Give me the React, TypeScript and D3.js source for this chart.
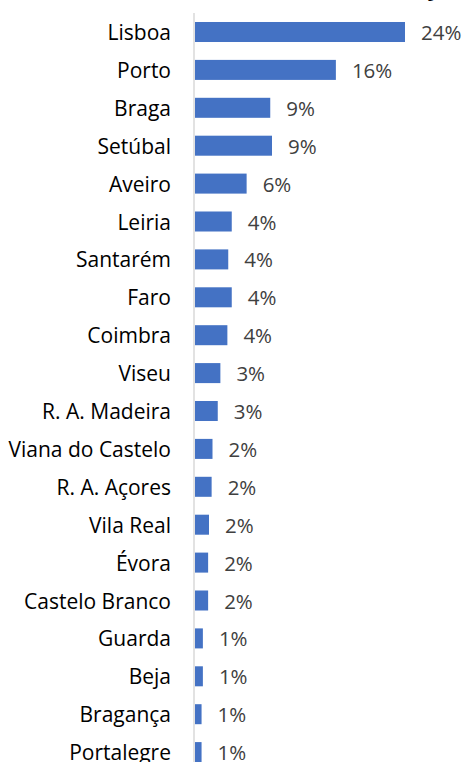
import React from "react";
import * as d3 from "d3";

// districts, top to bottom
const districts = [
  "Lisboa",
  "Porto",
  "Braga",
  "Setúbal",
  "Aveiro",
  "Leiria",
  "Santarém",
  "Faro",
  "Coimbra",
  "Viseu",
  "R. A. Madeira",
  "Viana do Castelo",
  "R. A. Açores",
  "Vila Real",
  "Évora",
  "Castelo Branco",
  "Guarda",
  "Beja",
  "Bragança",
  "Portalegre",
];

// share in percent
const shares = [
  24.0, 16.1, 8.6, 8.8, 5.9, 4.2, 3.8, 4.2, 3.7, 2.9, 2.6, 2.0, 1.9, 1.6, 1.5,
  1.5, 0.9, 0.9, 0.75, 0.75,
];

const W = 466;
const H = 762;

const App = () => {
  const rows = districts.map((name, i) => ({ name, value: shares[i] }));

  const y = d3
    .scaleBand<string>()
    .domain(districts)
    .range([13.05, 771.05])
    .paddingInner(0.472)
    .paddingOuter(0.236);

  const x = d3.scaleLinear().domain([0, 24]).range([195, 405]);

  const fmt = (v: number) => `${Math.round(v)}%`;

  return (
    <svg
      width={W}
      height={H}
      style={{ position: "absolute", left: 0, top: 0, display: "block" }}
      fontFamily="'Open Sans', Lato, sans-serif"
    >
      <rect width={W} height={H} fill="#fff" />
      {/* title, mostly cut off at the top */}
      <text
        x={448}
        y={-5}
        textAnchor="end"
        fontSize={24}
        fontWeight="bold"
        fill="#000"
      >
        Distribution by,
      </text>

      <line x1={194} x2={194} y1={13} y2={H} stroke="#d9d9d9" strokeWidth={1.5} />

      {rows.map((d) => {
        const cy = (y(d.name) ?? 0) + y.bandwidth() / 2;
        return (
          <g key={d.name}>
            <text
              x={171}
              y={cy}
              textAnchor="end"
              dominantBaseline="central"
              fontSize={21}
              fill="#000"
            >
              {d.name}
            </text>
            <rect
              x={x(0)}
              y={y(d.name)}
              width={x(d.value) - x(0)}
              height={y.bandwidth()}
              fill="#4472C4"
            />
            <text
              x={x(d.value) + 16}
              y={cy}
              dominantBaseline="central"
              fontSize={20.5}
              fill="#404040"
            >
              {fmt(d.value)}
            </text>
          </g>
        );
      })}
    </svg>
  );
};

export default App;
